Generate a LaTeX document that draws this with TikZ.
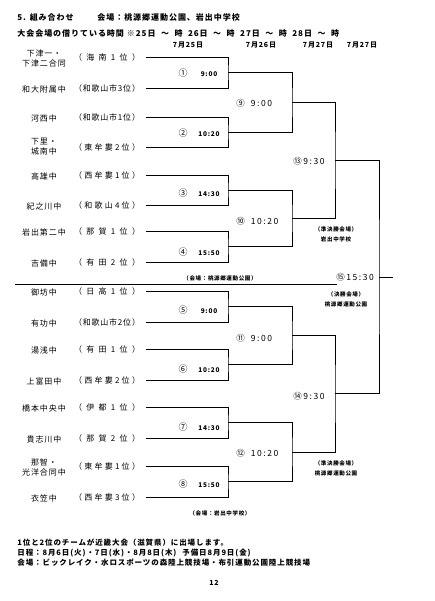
\documentclass[tikz,border=0pt]{standalone}
\usepackage{fontspec}
\setmainfont{Noto Sans CJK JP}[LetterSpace=12]
\newfontfamily\widefont{Noto Sans CJK JP}[LetterSpace=18]

\newcommand\seedbox[1]{\makebox[66pt][s]{#1}}
\newcommand\rslot[2]{\makebox[12pt]{\fontsize{9}{9}\selectfont #1}\hspace{10pt}\makebox[20pt]{\bfseries #2}}

\begin{document}
\begin{tikzpicture}[x=1pt, y=-1pt, line width=0.8pt, every node/.style={inner sep=0pt},
	team/.style={font=\fontsize{8}{10}\selectfont, align=center},
	seed/.style={font=\fontsize{8}{10}\selectfont, inner xsep=6pt},
	slot/.style={font=\fontsize{6.5}{8}\selectfont},
	rtime/.style={anchor=west, font=\widefont\fontsize{8.5}{10}\selectfont},
	note/.style={font=\bfseries\fontsize{5.5}{10}\selectfont, align=center},
	head/.style={anchor=west, font=\bfseries\fontsize{8}{10}\selectfont}]
	\useasboundingbox (0,0) rectangle (434,601);
	% header
	\node[head] (h1) at (17,17) {5. 組み合わせ};
	\node[head] (h2) at (97,17) {会場：桃源郷運動公園、岩出中学校};
	\node[head] (h3) at (17,33) {大会会場の借りている時間\hspace{3pt}※25日\hspace{5.5pt}～\hspace{5.5pt}時\hspace{5.5pt}26日\hspace{5.5pt}～\hspace{5.5pt}時\hspace{5.5pt}27日\hspace{5.5pt}～\hspace{5.5pt}時\hspace{5.5pt}28日\hspace{5.5pt}～\hspace{5.5pt}時};
	\node[head, anchor=center, font=\bfseries\fontsize{7}{9}\selectfont] (d1) at (188,45) {7月25日};
	\node[head, anchor=center, font=\bfseries\fontsize{7}{9}\selectfont] (d2) at (261,45) {7月26日};
	\node[head, anchor=center, font=\bfseries\fontsize{7}{9}\selectfont] (d3) at (318,45) {7月27日};
	\node[head, anchor=center, font=\bfseries\fontsize{7}{9}\selectfont] (d4) at (362,45) {7月27日};
	% teams
	\node[team] (n1) at (44,58) {下津一・\\下津二合同};
	\node[seed] (s1) at (107,57) {\seedbox{（\hfill 海\hfill 南\hfill 1\hfill 位\hfill ）}};
	\node[team] (n2) at (44,89) {和大附属中};
	\node[seed] (s2) at (107,88) {\seedbox{（\hfill 和\hfill 歌\hfill 山\hfill 市\hfill 3\hfill 位\hfill ）}};
	\node[team] (n3) at (44,118) {河西中};
	\node[seed] (s3) at (107,117) {\seedbox{（\hfill 和\hfill 歌\hfill 山\hfill 市\hfill 1\hfill 位\hfill ）}};
	\node[team] (n4) at (44,147) {下里・\\城南中};
	\node[seed] (s4) at (107,147) {\seedbox{（\hfill 東\hfill 牟\hfill 婁\hfill 2\hfill 位\hfill ）}};
	\node[team] (n5) at (44,176) {高雄中};
	\node[seed] (s5) at (107,175) {\seedbox{（\hfill 西\hfill 牟\hfill 婁\hfill 1\hfill 位\hfill ）}};
	\node[team] (n6) at (44,206) {紀之川中};
	\node[seed] (s6) at (107,205) {\seedbox{（\hfill 和\hfill 歌\hfill 山\hfill 4\hfill 位\hfill ）}};
	\node[team] (n7) at (44,232) {岩出第二中};
	\node[seed] (s7) at (107,231) {\seedbox{（\hfill 那\hfill 賀\hfill 1\hfill 位\hfill ）}};
	\node[team] (n8) at (44,263) {吉備中};
	\node[seed] (s8) at (107,262) {\seedbox{（\hfill 有\hfill 田\hfill 2\hfill 位\hfill ）}};
	\node[team] (n9) at (44,292) {御坊中};
	\node[seed] (s9) at (107,291) {\seedbox{（\hfill 日\hfill 高\hfill 1\hfill 位\hfill ）}};
	\node[team] (n10) at (44,323) {有功中};
	\node[seed] (s10) at (107,322) {\seedbox{（\hfill 和\hfill 歌\hfill 山\hfill 市\hfill 2\hfill 位\hfill ）}};
	\node[team] (n11) at (44,350) {湯浅中};
	\node[seed] (s11) at (107,349) {\seedbox{（\hfill 有\hfill 田\hfill 1\hfill 位\hfill ）}};
	\node[team] (n12) at (44,381) {上富田中};
	\node[seed] (s12) at (107,380) {\seedbox{（\hfill 西\hfill 牟\hfill 婁\hfill 2\hfill 位\hfill ）}};
	\node[team] (n13) at (44,408) {橋本中央中};
	\node[seed] (s13) at (107,407) {\seedbox{（\hfill 伊\hfill 都\hfill 1\hfill 位\hfill ）}};
	\node[team] (n14) at (44,439) {貴志川中};
	\node[seed] (s14) at (107,438) {\seedbox{（\hfill 那\hfill 賀\hfill 2\hfill 位\hfill ）}};
	\node[team] (n15) at (44,467) {那智・\\光洋合同中};
	\node[seed] (s15) at (107,466) {\seedbox{（\hfill 東\hfill 牟\hfill 婁\hfill 1\hfill 位\hfill ）}};
	\node[team] (n16) at (44,498) {衣笠中};
	\node[seed] (s16) at (107,497) {\seedbox{（\hfill 西\hfill 牟\hfill 婁\hfill 3\hfill 位\hfill ）}};
	% bracket joints
	\coordinate (a1) at (228,72.5); \coordinate (a2) at (228,132);
	\coordinate (a3) at (228,190); \coordinate (a4) at (228,246.5);
	\coordinate (a5) at (228,306.5); \coordinate (a6) at (228,364.5);
	\coordinate (a7) at (228,422.5); \coordinate (a8) at (228,481.5);
	\coordinate (b1) at (292,102.25); \coordinate (b2) at (292,218.25);
	\coordinate (b3) at (292,335.5); \coordinate (b4) at (292,452);
	\coordinate (c1) at (335,160.25); \coordinate (c2) at (335,393.75);
	\coordinate (f) at (379,277); \coordinate (w) at (393,277);
	\coordinate (sepl) at (15,284); \coordinate (sepr) at (337,284);
	% first round
	\draw (s1.east) -| (a1) |- (s2.east);
	\draw (s3.east) -| (a2) |- (s4.east);
	\draw (s5.east) -| (a3) |- (s6.east);
	\draw (s7.east) -| (a4) |- (s8.east);
	\draw (s9.east) -| (a5) |- (s10.east);
	\draw (s11.east) -| (a6) |- (s12.east);
	\draw (s13.east) -| (a7) |- (s14.east);
	\draw (s15.east) -| (a8) |- (s16.east);
	% later rounds
	\draw (a1) -| (b1) |- (a2);
	\draw (a3) -| (b2) |- (a4);
	\draw (a5) -| (b3) |- (a6);
	\draw (a7) -| (b4) |- (a8);
	\draw (b1) -| (c1) |- (b2);
	\draw (b3) -| (c2) |- (b4);
	\draw (c1) -| (f) |- (c2);
	\draw (f) -- (w);
	\draw (sepl) -- (sepr);
	% match labels
	\node[slot] (g1) at (198,73) {\rslot{①}{9:00}};
	\node[slot] (g2) at (198,133) {\rslot{②}{10:20}};
	\node[slot] (g3) at (198,193) {\rslot{③}{14:30}};
	\node[slot] (g4) at (198,252) {\rslot{④}{15:50}};
	\node[slot] (g5) at (198,310) {\rslot{⑤}{9:00}};
	\node[slot] (g6) at (198,369) {\rslot{⑥}{10:20}};
	\node[slot] (g7) at (198,427) {\rslot{⑦}{14:30}};
	\node[slot] (g8) at (198,484) {\rslot{⑧}{15:50}};
	\node[rtime] (g9) at (236,103) {⑨\hspace{6pt}9:00};
	\node[rtime] (g10) at (236,221) {⑩\hspace{6pt}10:20};
	\node[rtime] (g11) at (236,338) {⑪\hspace{6pt}9:00};
	\node[rtime] (g12) at (236,453) {⑫\hspace{6pt}10:20};
	\node[rtime] (g13) at (293,161) {⑬9:30};
	\node[rtime] (g14) at (293,396) {⑭9:30};
	\node[rtime] (g15) at (336,277) {⑮15:30};
	% venues
	\node[note] (v1) at (220,278) {（会場：桃源郷運動公園）};
	\node[note] (v2) at (336,234) {（準決勝会場）\\岩出中学校};
	\node[note] (v3) at (346,299.5) {（決勝会場）\\桃源郷運動公園};
	\node[note] (v4) at (336,468) {（準決勝会場）\\桃源郷運動公園};
	\node[note] (v5) at (220,513) {（会場：岩出中学校）};
	% footer
	\node[head, align=left, font=\bfseries\fontsize{7.5}{10}\selectfont] (ft) at (17,553) {1位と2位のチームが近畿大会（滋賀県）に出場します。\\日程：8月6日(火)・7日(水)・8月8日(木)\hspace{6pt}予備日8月9日(金)\\会場：ビックレイク・水ロスポーツの森陸上競技場・布引運動公園陸上競技場};
	\node[font=\bfseries\fontsize{7}{9}\selectfont] (pg) at (214,583) {12};
\end{tikzpicture}
\end{document}
